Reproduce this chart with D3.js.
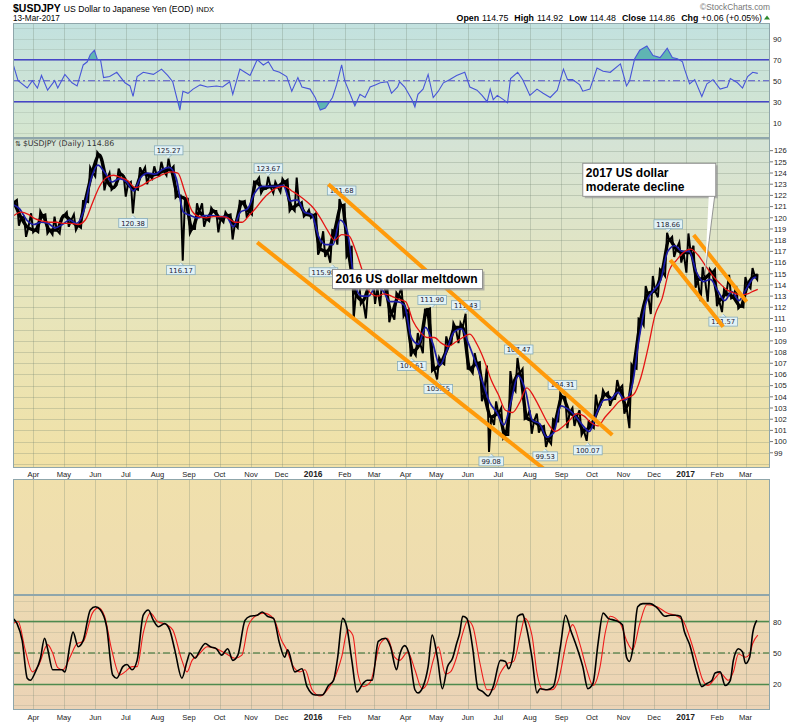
<!DOCTYPE html>
<html><head><meta charset="utf-8">
<script src="https://cdn.jsdelivr.net/npm/d3@7"></script>
<style>body{margin:0;background:#fff}svg{display:block}</style>
</head><body><svg id="c" width="800" height="724"></svg>
<script>
// ---------------- DATA ----------------
const seriesStart = "2015-03-12";
const seriesEndAxis = "2017-03-25";
const firstOpen = 121.6;
const lastBarDate = "2017-03-13";
const weekHigh = [122.0,121.6,120.1,120.4,120.6,120.3,120.1,120.0,120.5,120.3,121.5,124.5,125.86,125.0,124.0,124.4,123.7,123.2,124.5,124.5,124.6,125.0,125.28,124.6,122.0,121.7,121.3,121.3,120.9,120.6,120.5,120.3,121.5,121.5,123.25,123.6,123.67,123.2,123.5,123.4,123.6,121.4,120.7,120.4,118.8,118.9,121.68,121.2,117.5,114.9,113.5,114.6,114.5,114.0,113.3,113.8,111.8,109.7,111.8,111.9,107.5,109.4,110.6,110.6,111.43,107.9,107.1,106.8,103.6,103.0,106.3,107.47,106.5,102.8,102.5,101.4,102.0,104.31,104.0,103.0,102.8,101.9,104.2,104.6,104.4,105.5,105.0,106.9,111.0,113.9,114.8,115.4,118.66,118.3,117.8,118.6,117.5,115.6,115.4,115.4,113.6,114.9,113.9,114.7,115.5,114.92];
const weekLow = [120.6,119.3,118.3,118.7,118.7,118.6,118.5,118.6,119.2,118.9,119.1,121.4,123.7,122.45,122.5,122.9,121.9,120.38,122.5,123.0,123.5,123.8,123.8,121.8,116.17,118.6,119.0,119.2,119.7,118.7,119.6,118.06,119.1,120.0,120.3,122.2,122.6,122.2,122.3,120.6,120.6,120.1,120.0,116.7,116.5,115.98,117.6,116.5,110.98,112.3,111.0,112.3,112.1,110.67,110.9,111.2,107.61,107.7,107.9,106.3,105.55,106.9,108.7,108.8,106.5,106.1,103.6,99.08,101.5,100.3,100.6,104.5,102.0,100.7,100.8,99.53,99.8,101.8,101.2,101.4,100.6,100.07,101.2,103.3,103.2,103.8,102.5,101.2,106.5,110.4,111.4,112.9,114.8,116.5,116.0,115.1,113.75,112.55,112.5,112.1,111.57,112.8,111.9,112.0,113.7,114.48];
const weekClose = [121.4,120.0,119.1,118.9,120.2,118.9,118.9,120.2,119.75,119.3,121.5,124.1,125.6,123.4,122.7,123.9,123.0,122.6,124.0,123.8,123.9,124.2,124.3,122.0,121.7,119.0,120.5,119.9,120.6,119.9,120.2,119.4,121.4,120.6,123.2,122.6,122.8,122.8,123.2,120.9,121.2,120.3,120.2,117.2,117.0,118.8,121.1,116.8,113.2,112.6,114.0,113.8,113.8,111.5,113.0,111.6,108.1,108.8,111.8,106.5,107.1,108.6,110.2,110.2,106.5,107.0,104.3,102.2,102.5,100.6,104.9,106.1,102.1,101.8,101.3,100.2,101.8,104.0,102.6,102.2,101.0,101.4,102.9,104.2,103.8,104.7,103.1,106.6,110.9,113.2,113.5,115.2,118.0,117.2,116.9,116.9,114.5,114.6,115.1,112.6,113.2,112.9,112.1,114.0,114.8,114.86];
const blueMA = [121.2,120.8,119.8,119.4,119.6,119.5,119.1,119.4,119.8,119.5,120.6,123.4,124.7,124.0,123.2,123.5,123.2,122.4,123.6,124.0,123.9,124.3,124.5,123.5,120.5,120.2,120.0,120.2,120.2,120.1,120.1,119.2,120.5,120.8,122.2,122.8,122.8,122.8,122.9,121.5,121.6,120.5,120.3,118.3,117.6,117.6,119.8,118.8,114.3,113.0,113.0,113.8,113.5,112.5,112.5,112.2,109.3,108.7,110.2,108.8,106.8,108.2,109.8,110.1,108.8,107.1,105.3,103.5,102.6,101.5,103.6,105.9,104.6,101.9,101.6,100.4,100.8,103.2,102.9,102.3,101.5,100.9,102.5,103.7,103.8,104.4,103.7,105.0,109.3,112.5,113.5,114.4,117.0,117.5,117.0,117.0,115.2,114.3,114.5,113.5,112.6,113.4,112.6,113.6,114.6,114.7];
const redMA = [120.2,120.5,120.3,119.9,119.7,119.6,119.6,119.5,119.5,119.4,119.8,121.3,122.8,123.6,123.8,123.6,123.3,122.7,122.9,123.3,123.6,123.9,124.1,124.0,122.3,120.6,120.1,120.0,120.1,120.1,120.0,119.6,119.6,120.2,120.9,121.7,122.3,122.7,122.8,122.4,122.0,121.5,120.9,120.0,118.9,118.0,118.5,118.4,117.0,115.1,113.3,113.0,113.2,113.0,112.7,112.5,110.8,109.8,109.3,109.3,108.8,108.5,108.9,109.3,109.6,108.7,107.3,105.5,104.2,102.8,102.6,103.5,104.8,104.0,102.8,101.6,100.9,101.3,101.9,102.5,102.3,101.7,101.4,102.2,102.9,103.6,103.9,104.2,105.7,108.3,111.3,112.8,115.3,116.2,116.9,117.2,116.7,115.8,114.9,114.2,113.6,113.3,113.1,113.2,113.5,113.6];
// oscillators: [days after seriesStart, value]
const rsi14 = [[0,66],[5,50],[14,43],[19,50],[24,43],[28,55],[34,41],[41,50],[44,43],[51,56],[58,48],[63,45],[69,65],[73,68],[76,75],[80,79],[83,70],[86,70],[89,53],[95,54],[102,58],[110,48],[115,45],[118,35],[122,54],[128,58],[138,56],[146,61],[152,55],[157,49],[164,22],[167,40],[172,38],[177,42],[184,46],[191,44],[200,45],[206,44],[213,49],[216,37],[223,61],[228,58],[233,55],[240,70],[246,65],[251,68],[256,60],[262,58],[269,54],[274,40],[280,53],[284,44],[292,42],[297,34],[302,22],[307,24],[314,34],[318,46],[323,65],[326,50],[331,38],[336,26],[341,37],[346,34],[351,44],[356,46],[361,48],[368,49],[372,38],[378,44],[380,49],[385,44],[392,32],[395,25],[398,37],[403,42],[408,56],[413,34],[418,40],[423,48],[429,51],[436,55],[444,58],[449,44],[456,41],[461,36],[466,30],[469,42],[472,32],[476,36],[482,32],[486,29],[489,52],[496,58],[501,51],[508,36],[515,42],[521,38],[528,34],[535,41],[541,61],[545,51],[550,51],[557,46],[560,40],[567,42],[574,62],[580,59],[587,58],[597,66],[603,45],[606,50],[611,71],[616,79],[623,83],[629,74],[636,72],[643,81],[648,72],[653,71],[658,68],[660,61],[665,47],[670,51],[677,35],[682,47],[688,51],[695,42],[702,44],[705,52],[712,48],[717,43],[722,54],[727,58],[732,57]];
const stochK = [[0,83],[4,78],[9,62],[14,26],[17,24],[22,32],[27,45],[31,64],[34,54],[39,34],[48,34],[51,32],[56,58],[59,70],[64,56],[69,62],[76,91],[81,94],[86,91],[92,75],[98,29],[102,26],[108,37],[112,39],[117,34],[122,43],[128,86],[133,91],[138,81],[143,75],[149,78],[154,72],[159,53],[166,26],[171,42],[174,50],[179,45],[184,53],[189,59],[194,56],[200,54],[205,48],[211,54],[216,43],[221,48],[228,81],[233,85],[240,86],[245,89],[250,85],[256,83],[262,59],[267,46],[270,53],[277,32],[284,35],[289,18],[297,10],[304,10],[310,19],[315,24],[319,45],[324,83],[328,75],[333,43],[338,13],[344,21],[348,24],[353,24],[359,61],[366,64],[371,56],[377,34],[380,48],[385,57],[390,46],[395,15],[398,12],[403,18],[408,37],[412,67],[417,46],[422,16],[427,37],[432,45],[436,59],[439,69],[442,85],[446,83],[449,72],[452,53],[457,16],[462,13],[467,9],[472,18],[479,43],[484,42],[487,35],[492,51],[496,85],[501,87],[503,81],[510,46],[515,12],[518,16],[525,15],[531,18],[538,56],[543,86],[548,72],[554,56],[560,37],[565,16],[570,21],[575,59],[580,88],[585,83],[592,81],[599,77],[603,46],[606,42],[609,53],[614,94],[619,97],[626,97],[633,93],[641,85],[646,86],[651,86],[656,85],[660,70],[665,58],[672,32],[677,18],[682,21],[687,24],[690,31],[695,32],[700,19],[705,24],[708,43],[713,54],[717,51],[720,40],[724,46],[727,69],[731,81]];
const stochD = [[0,78],[5,80],[12,53],[19,32],[25,38],[34,58],[39,50],[44,36],[49,34],[56,46],[63,59],[69,61],[78,88],[84,93],[90,85],[97,53],[105,29],[110,32],[117,37],[122,37],[128,69],[135,88],[142,80],[151,77],[157,72],[166,43],[171,32],[176,43],[182,48],[191,56],[200,54],[210,49],[218,45],[225,48],[231,75],[238,85],[246,88],[256,83],[264,62],[269,53],[275,38],[282,32],[287,34],[294,15],[302,9],[309,15],[315,24],[323,46],[329,72],[334,67],[339,30],[344,18],[351,22],[361,59],[368,64],[375,46],[380,43],[388,51],[395,34],[402,16],[407,21],[413,43],[418,56],[425,30],[430,32],[436,46],[442,69],[447,81],[452,75],[459,40],[466,15],[472,15],[479,31],[486,40],[492,42],[499,69],[503,83],[510,67],[515,31],[521,15],[530,15],[536,24],[545,65],[550,77],[557,59],[564,34],[570,19],[577,37],[582,69],[587,85],[597,78],[603,62],[609,53],[616,78],[623,96],[633,94],[643,88],[653,85],[659,80],[665,65],[672,43],[678,24],[683,19],[690,26],[695,31],[703,24],[708,32],[713,49],[720,46],[724,49],[727,59],[732,67]];
const priceTicks = [99,100,101,102,103,104,105,106,107,108,109,110,111,112,113,114,115,116,117,118,119,120,121,122,123,124,125,126];
const rsiTicks = [90,70,50,30,10];
const stochTicks = [80,50,20];
const extremeLabels = [
  {date:"2015-08-12", v:125.27, pos:"above"},
  {date:"2015-07-08", v:120.38, pos:"below"},
  {date:"2015-08-24", v:116.17, pos:"below"},
  {date:"2015-11-18", v:123.67, pos:"above"},
  {date:"2016-01-29", v:121.68, pos:"above"},
  {date:"2016-01-20", v:115.98, pos:"below"},
  {date:"2016-04-27", v:111.90, pos:"above"},
  {date:"2016-05-30", v:111.43, pos:"above"},
  {date:"2016-04-07", v:107.61, pos:"below"},
  {date:"2016-05-03", v:105.55, pos:"below"},
  {date:"2016-07-21", v:107.47, pos:"above"},
  {date:"2016-09-02", v:104.31, pos:"above"},
  {date:"2016-06-24", v:99.08, pos:"below"},
  {date:"2016-08-16", v:99.53, pos:"below"},
  {date:"2016-09-27", v:100.07, pos:"below"},
  {date:"2016-12-15", v:118.66, pos:"above"},
  {date:"2017-02-07", v:111.57, pos:"below"}
];
const trendLines = [
  [["2016-01-16",123.0],["2016-10-21",100.6]],
  [["2015-11-07",117.8],["2016-08-16",97.47]],
  [["2017-01-09",118.47],["2017-03-02",112.5]],
  [["2016-12-17",116.23],["2017-02-07",110.27]]
];

// ---------------- SCALES ----------------
const P = d3.timeParse("%Y-%m-%d");
const t0 = P(seriesStart);
const L = 13, R = 770;
const x = d3.scaleTime().domain([t0, P(seriesEndAxis)]).range([L, R]);
const yR = d3.scaleLinear().domain([-4.57, 104.95]).range([138, 23]);
const yP = d3.scaleLinear().domain([97.64, 127.13]).range([468, 138]);
const yS = d3.scaleLinear().domain([-4.29, 216.2]).range([710, 478.5]);
const dayX = d => x(d3.timeDay.offset(t0, d));

const svg = d3.select("#c");
const defs = svg.append("defs");
function grad(id, stops){
  const g = defs.append("linearGradient").attr("id", id).attr("x1",0).attr("y1",0).attr("x2",0).attr("y2",1);
  stops.forEach(s=>g.append("stop").attr("offset",s[0]).attr("stop-color",s[1]));
}
grad("gR", [[0,"#c2e1df"],[1,"#d6e6cf"]]);
grad("gP", [[0,"#d4e3d6"],[0.5,"#e7e5bc"],[1,"#f1e1a6"]]);
grad("gV", [[0,"#f0e0ac"],[1,"#eedcb0"]]);
grad("gS", [[0,"#eddab2"],[1,"#ebd3b6"]]);

const panels = [
  {id:"r", top:23, bot:138, fill:"url(#gR)"},
  {id:"p", top:138, bot:468, fill:"url(#gP)"},
  {id:"v", top:479, bot:595, fill:"url(#gV)"},
  {id:"s", top:595, bot:710, fill:"url(#gS)"}
];
panels.forEach(p=>{
  svg.append("rect").attr("x",L).attr("y",p.top).attr("width",R-L).attr("height",p.bot-p.top).attr("fill",p.fill);
  defs.append("clipPath").attr("id","clip"+p.id).append("rect").attr("x",L).attr("y",p.top).attr("width",R-L).attr("height",p.bot-p.top);
});

// grids
const months = x.ticks(d3.timeMonth.every(1));
const gridC = "rgba(110,130,110,0.28)";
panels.forEach(p=>{
  svg.append("g").selectAll("line").data(months).join("line")
    .attr("x1",d=>Math.round(x(d))+0.5).attr("x2",d=>Math.round(x(d))+0.5)
    .attr("y1",p.top).attr("y2",p.bot).attr("stroke",gridC).attr("stroke-width",1);
});
const priceGrid = d3.range(98,128);
svg.append("g").selectAll("line").data(priceGrid).join("line")
  .attr("x1",L).attr("x2",R).attr("y1",d=>Math.round(yP(d))+0.5).attr("y2",d=>Math.round(yP(d))+0.5)
  .attr("stroke",gridC);
svg.append("g").selectAll("line").data(d3.range(0,101,10)).join("line")
  .attr("x1",L).attr("x2",R).attr("y1",d=>Math.round(yR(d))+0.5).attr("y2",d=>Math.round(yR(d))+0.5)
  .attr("stroke","rgba(110,130,110,0.18)");
svg.append("g").selectAll("line").data(d3.range(0,101,10)).join("line")
  .attr("x1",L).attr("x2",R).attr("y1",d=>Math.round(yS(d))+0.5).attr("y2",d=>Math.round(yS(d))+0.5)
  .attr("stroke","rgba(110,130,110,0.18)");

// ---------------- RSI ----------------
const gR = svg.append("g").attr("clip-path","url(#clipr)");
defs.append("clipPath").attr("id","above70").append("rect").attr("x",L).attr("y",23).attr("width",R-L).attr("height",yR(70)-23);
defs.append("clipPath").attr("id","below30").append("rect").attr("x",L).attr("y",yR(30)).attr("width",R-L).attr("height",138-yR(30));
gR.append("path").datum(rsi14).attr("clip-path","url(#above70)")
  .attr("d", d3.area().x(d=>dayX(d[0])).y0(yR(70)).y1(d=>yR(d[1]))).attr("fill","#5fb5b3");
gR.append("path").datum(rsi14).attr("clip-path","url(#below30)")
  .attr("d", d3.area().x(d=>dayX(d[0])).y0(yR(30)).y1(d=>yR(d[1]))).attr("fill","#5fb5b3");
[70,30].forEach(v=>gR.append("line").attr("x1",L).attr("x2",R).attr("y1",yR(v)).attr("y2",yR(v)).attr("stroke","#4545c8").attr("stroke-width",1.4));
gR.append("line").attr("x1",L).attr("x2",R).attr("y1",yR(50)).attr("y2",yR(50)).attr("stroke","#5050cc").attr("stroke-width",1.1).attr("stroke-dasharray","7,3,2,3");
gR.append("path").datum(rsi14).attr("d", d3.line().x(d=>dayX(d[0])).y(d=>yR(d[1])))
  .attr("fill","none").attr("stroke","#4856d8").attr("stroke-width",1.1);

// ---------------- PRICE ----------------
const weekEnd = d3.timeFriday.range(P("2015-03-13"), P("2017-03-11"));
weekEnd.push(P(lastBarDate));
const zig = [];
let prev = firstOpen;
weekEnd.forEach((d,i)=>{
  const up = weekClose[i] >= prev;
  const e1 = up ? weekLow[i] : weekHigh[i];
  const e2 = up ? weekHigh[i] : weekLow[i];
  const last = i === weekEnd.length-1;
  zig.push([d3.timeHour.offset(d, last? -14 : -100), e1]);
  zig.push([d3.timeHour.offset(d, last? -7 : -52), e2]);
  zig.push([d, weekClose[i]]);
  prev = weekClose[i];
});
const gP = svg.append("g").attr("clip-path","url(#clipp)");
gP.append("path").datum(zig).attr("d", d3.line().x(d=>x(d[0])).y(d=>yP(d[1])))
  .attr("fill","none").attr("stroke","#000").attr("stroke-width",2).attr("stroke-linejoin","miter");
gP.append("path").datum(weekClose.map((c,i)=>[weekEnd[i],c]))
  .attr("d", d3.line().x(d=>x(d[0])).y(d=>yP(d[1])).curve(d3.curveMonotoneX))
  .attr("fill","none").attr("stroke","#000").attr("stroke-width",3.4);
gP.append("path").datum(blueMA.map((c,i)=>[weekEnd[i],c]))
  .attr("d", d3.line().x(d=>x(d3.timeHour.offset(d[0],-36))).y(d=>yP(d[1])).curve(d3.curveMonotoneX))
  .attr("fill","none").attr("stroke","#1c1ca8").attr("stroke-width",1.7);
gP.append("path").datum(redMA.map((c,i)=>[weekEnd[i],c]))
  .attr("d", d3.line().x(d=>x(d[0])).y(d=>yP(d[1])).curve(d3.curveMonotoneX))
  .attr("fill","none").attr("stroke","#e41414").attr("stroke-width",1.3);

// extreme labels (the 115.98 box sits left of its pointer so the callout does not hide its text)
const gL = svg.append("g").attr("font-family","'DejaVu Sans', Verdana, sans-serif").attr("font-size","6.8px");
extremeLabels.forEach(l=>{
  const cx = x(P(l.date)), cy = yP(l.v);
  const txt = l.v.toFixed(2);
  const w = txt.length*4.1+4, h = 9;
  const bxc = l.v === 115.98 ? cx - 9 : cx;
  const top = l.pos==="above" ? cy-4-h : cy+5;
  const tri = l.pos==="above" ? [[cx-3,top+h],[cx+3,top+h],[cx,top+h+3]] : [[cx-3,top],[cx+3,top],[cx,top-3]];
  gL.append("rect").attr("x",bxc-w/2).attr("y",top).attr("width",w).attr("height",h)
    .attr("fill","#e2f2f6").attr("stroke","#86acbc").attr("stroke-width",0.8);
  gL.append("path").attr("d", d3.line()(tri)).attr("fill","#e2f2f6").attr("stroke","#86acbc").attr("stroke-width",0.8);
  gL.append("text").attr("x",bxc).attr("y",top+7).attr("text-anchor","middle").attr("fill","#223").text(txt);
});

// trend lines
const gT = svg.append("g").attr("clip-path","url(#clipp)");
trendLines.forEach(tl=>{
  gT.append("line").attr("x1",x(P(tl[0][0]))).attr("y1",yP(tl[0][1]))
    .attr("x2",x(P(tl[1][0]))).attr("y2",yP(tl[1][1]))
    .attr("stroke","#ff9a0a").attr("stroke-width",4);
});

// callouts
function callout(lines, date, price, w, h, tail){
  const bx = x(P(date)), by = yP(price);
  const g = svg.append("g");
  g.append("rect").attr("x",bx+2).attr("y",by+2).attr("width",w).attr("height",h).attr("fill","#9a9a9a").attr("opacity",0.7);
  if (tail){
    const tx = x(P(tail[0])), ty = yP(tail[1]);
    g.append("path").attr("d", d3.line()([[bx+w-7,by+h-1],[bx+w-1,by+h-1],[tx,ty]]))
      .attr("fill","#fff").attr("stroke","#8a8a8a").attr("stroke-width",0.9);
  }
  g.append("rect").attr("x",bx).attr("y",by).attr("width",w).attr("height",h).attr("fill","#fff").attr("stroke","#8a8a8a").attr("stroke-width",0.9);
  lines.forEach((t,i)=>g.append("text").attr("x",bx+3).attr("y",by+14+i*14)
    .attr("font-family","Arial, 'Liberation Sans', sans-serif").attr("font-weight","bold").attr("font-size","12px").attr("fill","#000").text(t));
}
callout(["2016 US dollar meltdown"], "2016-01-20", 115.38, 150, 19, null);
callout(["2017 US dollar","moderate decline"], "2016-09-22", 124.87, 133, 33, ["2017-01-20",114.9]);

// ---------------- STOCH ----------------
const gS = svg.append("g").attr("clip-path","url(#clips)");
[80,20].forEach(v=>gS.append("line").attr("x1",L).attr("x2",R).attr("y1",yS(v)).attr("y2",yS(v)).attr("stroke","#4e8a4e").attr("stroke-width",1.4));
gS.append("line").attr("x1",L).attr("x2",R).attr("y1",yS(50)).attr("y2",yS(50)).attr("stroke","#2c6a2c").attr("stroke-width",1).attr("stroke-dasharray","7,3,2,3");
gS.append("path").datum(stochD).attr("d", d3.line().x(d=>dayX(d[0])).y(d=>yS(d[1])).curve(d3.curveMonotoneX))
  .attr("fill","none").attr("stroke","#ee1c1c").attr("stroke-width",1.1);
gS.append("path").datum(stochK).attr("d", d3.line().x(d=>dayX(d[0])).y(d=>yS(d[1])).curve(d3.curveMonotoneX))
  .attr("fill","none").attr("stroke","#000").attr("stroke-width",1.6);

// ---------------- BORDERS & AXES ----------------
const border = "#8fa6ab";
panels.forEach(p=>svg.append("rect").attr("x",L+0.5).attr("y",p.top+0.5).attr("width",R-L-1).attr("height",p.bot-p.top-1)
  .attr("fill","none").attr("stroke",border).attr("stroke-width",1));

const axFont = "Arial, 'Liberation Sans', sans-serif";
const axG = svg.append("g").attr("font-family",axFont).attr("font-size","7.6px").attr("fill","#222");
axG.selectAll("text.rt").data(rsiTicks).join("text").attr("x",R+3).attr("y",d=>yR(d)+3).text(d=>d);
axG.selectAll("text.pt").data(priceTicks).join("text").attr("x",R+4).attr("y",d=>yP(d)+2.8).text(d=>d);
axG.selectAll("line.pt").data(priceTicks).join("line").attr("x1",R).attr("x2",R+3).attr("y1",d=>yP(d)).attr("y2",d=>yP(d)).attr("stroke","#555").attr("stroke-width",0.8);
axG.selectAll("text.st").data(stochTicks).join("text").attr("x",R+3).attr("y",d=>yS(d)+3).text(d=>d);

function monthLabels(yb){
  axG.append("g").selectAll("text").data(months).join("text")
    .attr("x",d=>x(d)).attr("y",yb).attr("text-anchor","middle")
    .attr("font-weight",d=>d.getMonth()===0?"bold":"normal")
    .attr("font-size",d=>d.getMonth()===0?"8.4px":"7.6px")
    .text(d=>d.getMonth()===0?d3.timeFormat("%Y")(d):d3.timeFormat("%b")(d));
}
monthLabels(476.5);
monthLabels(720);

// ---------------- HEADER ----------------
const hF = "Arial, 'Liberation Sans', sans-serif";
const h1 = svg.append("text").attr("x",13).attr("y",12).attr("font-family",hF).attr("fill","#000");
h1.append("tspan").attr("font-weight","bold").attr("font-size","10.5px").text("$USDJPY");
h1.append("tspan").attr("font-size","8.6px").attr("dx",3).text("US Dollar to Japanese Yen (EOD)");
h1.append("tspan").attr("font-size","7.4px").attr("dx",3).text("INDX");
svg.append("text").attr("x",13).attr("y",20.5).attr("font-family",hF).attr("font-size","8.2px").text("13-Mar-2017");
svg.append("text").attr("x",770).attr("y",9.5).attr("text-anchor","end").attr("font-family",hF).attr("font-size","8.4px").attr("fill","#777").text("\u00a9StockCharts.com");
const hq = svg.append("text").attr("x",762).attr("y",20.5).attr("text-anchor","end").attr("font-family",hF).attr("font-size","8.8px").attr("fill","#000");
[["Open","114.75"],["High","114.92"],["Low","114.48"],["Close","114.86"],["Chg","+0.06 (+0.05%)"]].forEach((p,i)=>{
  hq.append("tspan").attr("font-weight","bold").attr("dx",i?6:0).text(p[0]);
  hq.append("tspan").attr("dx",3).text(p[1]);
});
svg.append("path").attr("d","M764,19.5 L770,19.5 L767,15.5 Z").attr("fill","#2d8a2d");
const mt = svg.append("text").attr("x",15).attr("y",145.5).attr("font-family","'DejaVu Sans', Verdana, sans-serif").attr("font-size","7.8px").attr("fill","#333");
mt.append("tspan").attr("font-size","7px").text("\u21c5");
mt.append("tspan").attr("dx",2).text("$USDJPY (Daily) 114.86");
</script></body></html>
